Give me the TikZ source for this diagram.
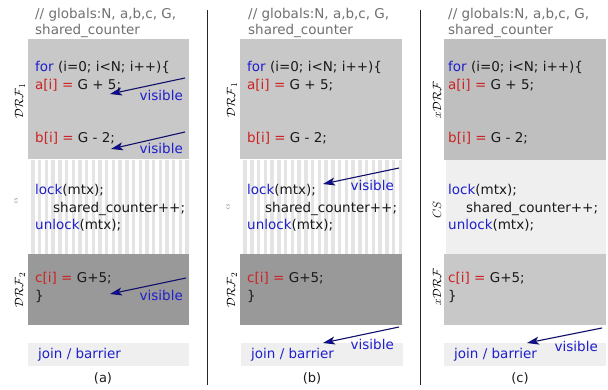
\documentclass[tikz,border=0pt]{standalone}
\usepackage{fontspec}
\setmainfont{DejaVu Sans}
\usetikzlibrary{arrows.meta}
\definecolor{kwblue}{HTML}{1F1FCC}
\definecolor{kwred}{HTML}{CC2222}
\definecolor{codeblk}{HTML}{1A1A1A}
\definecolor{cmtgrey}{HTML}{707070}
\definecolor{drfA}{HTML}{C8C8C8}
\definecolor{drfB}{HTML}{999999}
\definecolor{drfC}{HTML}{BFBFBF}
\definecolor{drfD}{HTML}{C8C8C8}
\definecolor{lightbox}{HTML}{EFEFEF}
\definecolor{stripe}{HTML}{E4E4E4}
\definecolor{arrnavy}{HTML}{10106A}
\definecolor{arrblue}{HTML}{0A0ACC}
\newcommand{\codefont}{\fontsize{13.5}{16}\selectfont}
\newcommand{\kw}[1]{\textcolor{kwblue}{#1}}
\newcommand{\rd}[1]{\textcolor{kwred}{#1}}
\begin{document}
\begin{tikzpicture}[x=1pt,y=-1pt,
  code/.style={anchor=base west, inner sep=0pt, font=\codefont, text=codeblk},
  cmt/.style={code, text=cmtgrey},
  vis/.style={anchor=base east, inner sep=0pt, font=\codefont, text=kwblue},
  arr/.style={draw=arrnavy, line width=1.1pt, -{Stealth[length=12pt,width=8pt,inset=3pt,fill=arrblue]}},
  lbl/.style={rotate=90, inner sep=0pt, font=\fontsize{13}{13}\selectfont},
  tinylbl/.style={rotate=90, inner sep=0pt, font=\fontsize{3.5}{4}\selectfont, text=black!70},
  sepline/.style={draw=black!85, line width=0.9pt},
  capt/.style={anchor=base, inner sep=0pt, font=\fontsize{13}{15}\selectfont, text=codeblk}]
\useasboundingbox (0,0) rectangle (608,390);
% separators
\draw[sepline] (207.5,10) -- (207.5,385);
\draw[sepline] (420,10) -- (420,385);

% ================= panel (a) =================
\fill[drfA] (28,39) rectangle (189,159);
\fill[white] (28,159) rectangle (189,254);
\foreach \i in {0,...,23} \fill[stripe] ({28+3.35+\i*6.7},160) rectangle ({28+6.7+\i*6.7},254);
\fill[drfB] (28,254) rectangle (189,325);
\fill[lightbox] (28,343) rectangle (189,366);

\node[cmt] (a-c1) at (35,19) {// globals:N, a,b,c, G,};
\node[cmt] (a-c2) at (35,35) {shared\_counter};
\node[code] (a-l1) at (35,72) {\kw{for} (i=0; i<N; i++)\{};
\node[code] (a-l2) at (35,90) {\rd{a[i] =} G + 5;};
\node[code] (a-l3) at (35,143) {\rd{b[i] =} G - 2;};
\node[code] (a-l4) at (35,195) {\kw{lock}(mtx);};
\node[code] (a-l5) at (53,213) {shared\_counter++;};
\node[code] (a-l6) at (35,230) {\kw{unlock}(mtx);};
\node[code] (a-l7) at (35,283) {\rd{c[i] =} G+5;};
\node[code] (a-l8) at (35,301) {\}};
\node[code, text=kwblue] (a-join) at (38,358) {join / barrier};
\node[capt] (a-cap) at (103,382) {(a)};

\node[lbl] (a-drf1) at (20,101) {$\mathcal{DRF}_1$};
\node[tinylbl] (a-cs) at (16,201) {CS};
\node[lbl] (a-drf2) at (20,290) {$\mathcal{DRF}_2$};

\node[vis] (a-v1) at (183,100.5) {visible};
\node[vis] (a-v2) at (183,154) {visible};
\node[vis] (a-v3) at (183,301) {visible};
\coordinate (a-s1) at (185,78);  \coordinate (a-t1) at (110,94);
\coordinate (a-s2) at (185,132); \coordinate (a-t2) at (111,149);
\coordinate (a-s3) at (186,278); \coordinate (a-t3) at (110,294);
\draw[arr] (a-s1) -- (a-t1);
\draw[arr] (a-s2) -- (a-t2);
\draw[arr] (a-s3) -- (a-t3);

% ================= panel (b) =================
\fill[drfA] (240,39) rectangle (402,159);
\fill[white] (240,159) rectangle (402,254);
\foreach \i in {0,...,23} \fill[stripe] ({240+3.35+\i*6.75},160) rectangle ({240+6.75+\i*6.75},254);
\fill[drfB] (240,254) rectangle (402,325);
\fill[lightbox] (241,343) rectangle (403,366);

\node[cmt] (b-c1) at (248,19) {// globals:N, a,b,c, G,};
\node[cmt] (b-c2) at (248,35) {shared\_counter};
\node[code] (b-l1) at (247,72) {\kw{for} (i=0; i<N; i++)\{};
\node[code] (b-l2) at (247,90) {\rd{a[i] =} G + 5;};
\node[code] (b-l3) at (247,143) {\rd{b[i] =} G - 2;};
\node[code] (b-l4) at (247,195) {\kw{lock}(mtx);};
\node[code] (b-l5) at (265,213) {shared\_counter++;};
\node[code] (b-l6) at (247,230) {\kw{unlock}(mtx);};
\node[code] (b-l7) at (247,283) {\rd{c[i] =} G+5;};
\node[code] (b-l8) at (247,301) {\}};
\node[code, text=kwblue] (b-join) at (251,358) {join / barrier};
\node[capt] (b-cap) at (312,382) {(b)};

\node[lbl] (b-drf1) at (232,100) {$\mathcal{DRF}_1$};
\node[tinylbl] (b-cs) at (228,207) {CS};
\node[lbl] (b-drf2) at (232,290) {$\mathcal{DRF}_2$};

\node[vis] (b-v1) at (394,191) {visible};
\node[vis] (b-v2) at (394,349) {visible};
\coordinate (b-s1) at (399,168); \coordinate (b-t1) at (323,184);
\coordinate (b-s2) at (399,327); \coordinate (b-t2) at (323,343);
\draw[arr] (b-s1) -- (b-t1);
\draw[arr] (b-s2) -- (b-t2);

% ================= panel (c) =================
\fill[drfC] (444,39) rectangle (606,160);
\fill[lightbox] (446,160) rectangle (606,254);
\fill[drfD] (444,254) rectangle (606,325);
\fill[lightbox] (444,343) rectangle (606,366);

\node[cmt] (c-c1) at (448,19) {// globals:N, a,b,c, G,};
\node[cmt] (c-c2) at (448,35) {shared\_counter};
\node[code] (c-l1) at (448,72) {\kw{for} (i=0; i<N; i++)\{};
\node[code] (c-l2) at (448,90) {\rd{a[i] =} G + 5;};
\node[code] (c-l3) at (448,143) {\rd{b[i] =} G - 2;};
\node[code] (c-l4) at (448,195) {\kw{lock}(mtx);};
\node[code] (c-l5) at (466,213) {shared\_counter++;};
\node[code] (c-l6) at (448,230) {\kw{unlock}(mtx);};
\node[code] (c-l7) at (448,283) {\rd{c[i] =} G+5;};
\node[code] (c-l8) at (448,301) {\}};
\node[code, text=kwblue] (c-join) at (454,358) {join / barrier};
\node[capt] (c-cap) at (520,382) {(c)};

\node[lbl] (c-drf1) at (437,100) {$x\mathcal{DRF}$};
\node[lbl] (c-cs) at (437,210) {$CS$};
\node[lbl] (c-drf2) at (437,287) {$x\mathcal{DRF}$};

\node[vis] (c-v1) at (598,351) {visible};
\coordinate (c-s1) at (602,328); \coordinate (c-t1) at (527,343);
\draw[arr] (c-s1) -- (c-t1);
\end{tikzpicture}
\end{document}
